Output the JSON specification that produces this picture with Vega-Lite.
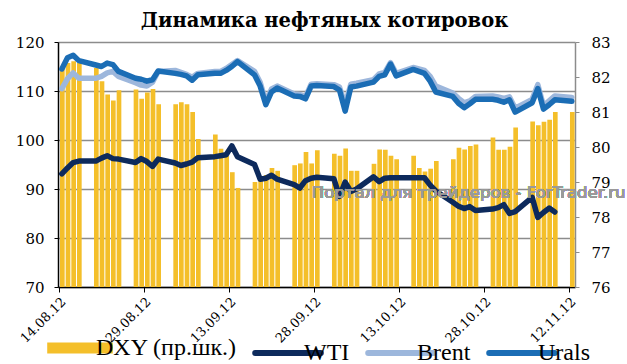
{
  "$schema": "https://vega.github.io/schema/vega-lite/v6.json",
  "width": 517,
  "height": 245,
  "autosize": {"type": "none"},
  "padding": {"left": 58, "top": 42, "right": 52, "bottom": 77},
  "background": "white",
  "title": {
    "text": "Динамика нефтяных котировок",
    "font": "DejaVu Serif",
    "fontSize": 19.5,
    "fontWeight": "bold",
    "color": "#000000",
    "anchor": "middle",
    "dx": 8,
    "offset": 4
  },
  "config": {
    "view": {"stroke": null},
    "axis": {"labelFont": "DejaVu Serif", "labelColor": "#000000", "titleFont": "DejaVu Serif"}
  },
  "data": {
    "values": [
      {"date": "2012-08-14", "DXY": 82.30, "WTI": 93.1, "Brent": 110.5, "Urals": 114.5},
      {"date": "2012-08-15", "DXY": 82.40, "WTI": 94.3, "Brent": 112.5, "Urals": 116.8},
      {"date": "2012-08-16", "DXY": 82.45, "WTI": 95.4, "Brent": 113.7, "Urals": 117.3},
      {"date": "2012-08-17", "DXY": 82.40, "WTI": 95.7, "Brent": 112.6, "Urals": 116.2},
      {"date": "2012-08-20", "DXY": 82.26, "WTI": 95.7, "Brent": 112.6, "Urals": 115.3},
      {"date": "2012-08-21", "DXY": 81.88, "WTI": 96.3, "Brent": 113.0, "Urals": 115.0},
      {"date": "2012-08-22", "DXY": 81.50, "WTI": 96.8, "Brent": 113.7, "Urals": 115.7},
      {"date": "2012-08-23", "DXY": 81.33, "WTI": 96.2, "Brent": 114.0, "Urals": 115.4},
      {"date": "2012-08-24", "DXY": 81.62, "WTI": 96.1, "Brent": 113.0, "Urals": 114.0},
      {"date": "2012-08-27", "DXY": 81.64, "WTI": 95.4, "Brent": 111.7, "Urals": 112.6},
      {"date": "2012-08-28", "DXY": 81.38, "WTI": 96.2, "Brent": 111.2, "Urals": 112.4},
      {"date": "2012-08-29", "DXY": 81.56, "WTI": 95.6, "Brent": 111.0, "Urals": 112.0},
      {"date": "2012-08-30", "DXY": 81.66, "WTI": 94.6, "Brent": 111.8, "Urals": 112.3},
      {"date": "2012-08-31", "DXY": 81.22, "WTI": 96.1, "Brent": 114.0, "Urals": 114.1},
      {"date": "2012-09-03", "DXY": 81.22, "WTI": 95.3, "Brent": 114.2, "Urals": 113.6},
      {"date": "2012-09-04", "DXY": 81.28, "WTI": 94.8, "Brent": 113.8, "Urals": 113.4},
      {"date": "2012-09-05", "DXY": 81.22, "WTI": 95.1, "Brent": 113.4, "Urals": 113.1},
      {"date": "2012-09-06", "DXY": 81.00, "WTI": 95.5, "Brent": 112.8, "Urals": 112.2},
      {"date": "2012-09-07", "DXY": 80.23, "WTI": 96.4, "Brent": 113.6, "Urals": 113.3},
      {"date": "2012-09-10", "DXY": 80.36, "WTI": 96.6, "Brent": 114.0, "Urals": 113.6},
      {"date": "2012-09-11", "DXY": 79.95, "WTI": 96.8, "Brent": 114.0, "Urals": 113.6},
      {"date": "2012-09-12", "DXY": 79.75, "WTI": 97.0, "Brent": 114.6, "Urals": 114.2},
      {"date": "2012-09-13", "DXY": 79.28, "WTI": 98.8, "Brent": 115.4, "Urals": 115.0},
      {"date": "2012-09-14", "DXY": 78.83, "WTI": 96.6, "Brent": 116.2, "Urals": 116.0},
      {"date": "2012-09-17", "DXY": 79.00, "WTI": 95.0, "Brent": 114.0, "Urals": 113.3},
      {"date": "2012-09-18", "DXY": 79.05, "WTI": 92.0, "Brent": 111.8, "Urals": 111.0},
      {"date": "2012-09-19", "DXY": 79.20, "WTI": 92.2, "Brent": 107.8, "Urals": 107.2},
      {"date": "2012-09-20", "DXY": 79.40, "WTI": 92.8, "Brent": 110.4, "Urals": 109.8},
      {"date": "2012-09-21", "DXY": 79.32, "WTI": 92.0, "Brent": 111.0, "Urals": 110.6},
      {"date": "2012-09-24", "DXY": 79.48, "WTI": 90.9, "Brent": 109.4, "Urals": 109.0},
      {"date": "2012-09-25", "DXY": 79.53, "WTI": 90.2, "Brent": 109.3, "Urals": 108.9},
      {"date": "2012-09-26", "DXY": 79.86, "WTI": 91.7, "Brent": 108.8, "Urals": 108.4},
      {"date": "2012-09-27", "DXY": 79.53, "WTI": 92.2, "Brent": 111.4, "Urals": 111.0},
      {"date": "2012-09-28", "DXY": 79.91, "WTI": 92.4, "Brent": 111.5, "Urals": 111.1},
      {"date": "2012-10-01", "DXY": 79.81, "WTI": 92.1, "Brent": 111.3, "Urals": 110.9},
      {"date": "2012-10-02", "DXY": 79.75, "WTI": 88.5, "Brent": 110.8, "Urals": 110.2},
      {"date": "2012-10-03", "DXY": 79.96, "WTI": 91.4, "Brent": 107.2, "Urals": 105.9},
      {"date": "2012-10-04", "DXY": 79.32, "WTI": 89.5, "Brent": 111.4, "Urals": 110.8},
      {"date": "2012-10-05", "DXY": 79.32, "WTI": 90.0, "Brent": 111.6, "Urals": 111.0},
      {"date": "2012-10-08", "DXY": 79.52, "WTI": 92.5, "Brent": 112.3, "Urals": 111.8},
      {"date": "2012-10-09", "DXY": 79.93, "WTI": 91.5, "Brent": 113.5, "Urals": 113.0},
      {"date": "2012-10-10", "DXY": 79.92, "WTI": 92.2, "Brent": 113.8, "Urals": 113.3},
      {"date": "2012-10-11", "DXY": 79.75, "WTI": 92.3, "Brent": 115.8, "Urals": 115.5},
      {"date": "2012-10-12", "DXY": 79.65, "WTI": 92.3, "Brent": 113.6, "Urals": 113.1},
      {"date": "2012-10-15", "DXY": 79.75, "WTI": 92.3, "Brent": 114.8, "Urals": 114.4},
      {"date": "2012-10-16", "DXY": 79.40, "WTI": 92.3, "Brent": 114.5, "Urals": 114.0},
      {"date": "2012-10-17", "DXY": 79.30, "WTI": 92.3, "Brent": 114.2, "Urals": 113.6},
      {"date": "2012-10-18", "DXY": 79.38, "WTI": 90.8, "Brent": 113.0, "Urals": 112.0},
      {"date": "2012-10-19", "DXY": 79.60, "WTI": 89.6, "Brent": 111.0, "Urals": 109.8},
      {"date": "2012-10-22", "DXY": 79.65, "WTI": 87.3, "Brent": 109.6, "Urals": 108.9},
      {"date": "2012-10-23", "DXY": 79.98, "WTI": 86.5, "Brent": 108.5, "Urals": 107.5},
      {"date": "2012-10-24", "DXY": 79.93, "WTI": 86.0, "Brent": 107.6, "Urals": 106.6},
      {"date": "2012-10-25", "DXY": 80.03, "WTI": 86.4, "Brent": 108.0, "Urals": 107.4},
      {"date": "2012-10-26", "DXY": 80.07, "WTI": 85.6, "Brent": 108.9, "Urals": 108.3},
      {"date": "2012-10-29", "DXY": 80.27, "WTI": 85.9, "Brent": 109.0, "Urals": 108.3},
      {"date": "2012-10-30", "DXY": 79.92, "WTI": 86.2, "Brent": 108.8, "Urals": 108.1},
      {"date": "2012-10-31", "DXY": 79.92, "WTI": 86.8, "Brent": 108.5, "Urals": 107.7},
      {"date": "2012-11-01", "DXY": 80.01, "WTI": 85.0, "Brent": 108.8, "Urals": 108.2},
      {"date": "2012-11-02", "DXY": 80.56, "WTI": 85.4, "Brent": 106.5, "Urals": 105.7},
      {"date": "2012-11-05", "DXY": 80.73, "WTI": 88.3, "Brent": 108.3, "Urals": 107.6},
      {"date": "2012-11-06", "DXY": 80.62, "WTI": 84.2, "Brent": 111.3, "Urals": 110.5},
      {"date": "2012-11-07", "DXY": 80.72, "WTI": 85.2, "Brent": 107.0, "Urals": 106.3},
      {"date": "2012-11-08", "DXY": 80.78, "WTI": 86.1, "Brent": 108.0, "Urals": 107.2},
      {"date": "2012-11-09", "DXY": 81.00, "WTI": 85.3, "Brent": 109.0, "Urals": 108.2},
      {"date": "2012-11-12", "DXY": 81.00, "Brent": 108.7, "Urals": 107.9}
    ]
  },
  "layer": [
    {
      "mark": {"type": "bar", "color": "#F4BF2A", "timeUnitBandSize": 0.72, "timeUnitBandPosition": 0.14},
      "encoding": {
        "x": {
          "field": "date",
          "timeUnit": "utcyearmonthdate",
          "type": "temporal",
          "scale": {
            "type": "utc",
            "domain": [
              {"year": 2012, "month": "aug", "date": 13, "hours": 19, "minutes": 45, "utc": true},
              {"year": 2012, "month": "nov", "date": 13, "hours": 1, "minutes": 30, "utc": true}
            ]
          },
          "axis": {
            "title": null,
            "values": [
              {"year": 2012, "month": "aug", "date": 14, "utc": true},
              {"year": 2012, "month": "aug", "date": 29, "utc": true},
              {"year": 2012, "month": "sep", "date": 13, "utc": true},
              {"year": 2012, "month": "sep", "date": 28, "utc": true},
              {"year": 2012, "month": "oct", "date": 13, "utc": true},
              {"year": 2012, "month": "oct", "date": 28, "utc": true},
              {"year": 2012, "month": "nov", "date": 12, "utc": true}
            ],
            "format": "%d.%m.%y",
            "labelAngle": -45,
            "labelFontSize": 13,
            "labelPadding": 3,
            "tickSize": 5,
            "tickColor": "#000000",
            "domainColor": "#000000",
            "domainWidth": 1.5,
            "grid": false,
            "labelOverlap": false,
            "labelFlush": false
          }
        },
        "y": {
          "field": "DXY",
          "type": "quantitative",
          "scale": {"domain": [76, 83], "zero": false, "nice": false},
          "axis": {
            "orient": "right",
            "title": null,
            "values": [76, 77, 78, 79, 80, 81, 82, 83],
            "labelFontSize": 15,
            "labelPadding": 12,
            "tickSize": 4,
            "tickColor": "#8c8c8c",
            "domainColor": "#8c8c8c",
            "domainWidth": 1.5,
            "grid": false
          }
        },
        "y2": {"datum": 76},
        "color": {
          "datum": "DXY (пр.шк.)",
          "type": "nominal",
          "scale": {
            "domain": ["DXY (пр.шк.)", "WTI", "Brent", "Urals"],
            "range": ["#F4BF2A", "#0D2A5C", "#9DB7DC", "#1B6DB5"]
          },
          "legend": {
            "orient": "none",
            "legendX": 10,
            "legendY": 294,
            "direction": "horizontal",
            "title": null,
            "padding": 0,
            "symbolType": "stroke",
            "symbolSize": 4300,
            "symbolStrokeWidth": 5,
            "labelFont": "Liberation Serif",
            "labelFontSize": 24,
            "labelColor": "#000000",
            "labelOffset": 4,
            "columnPadding": 6,
            "encode": {
              "symbols": {
                "update": {
                  "stroke": {"scale": "color", "field": "value"},
                  "fill": {"value": "transparent"},
                  "strokeWidth": {"signal": "datum.value === 'DXY (пр.шк.)' ? 11 : 6"},
                  "strokeCap": {"signal": "datum.value === 'DXY (пр.шк.)' ? 'butt' : 'round'"}
                }
              }
            }
          }
        }
      }
    },
    {
      "layer": [
        {
          "transform": [{"fold": ["WTI", "Brent", "Urals"], "as": ["series", "value"]}],
          "mark": {"type": "line", "strokeWidth": 5.5, "strokeCap": "round", "strokeJoin": "round"},
          "encoding": {
            "x": {
              "field": "date",
              "timeUnit": "utcyearmonthdate",
              "type": "temporal",
              "bandPosition": 0.5,
              "axis": {
                "title": null,
                "values": [
                  {"year": 2012, "month": "aug", "date": 14, "utc": true},
                  {"year": 2012, "month": "aug", "date": 29, "utc": true},
                  {"year": 2012, "month": "sep", "date": 13, "utc": true},
                  {"year": 2012, "month": "sep", "date": 28, "utc": true},
                  {"year": 2012, "month": "oct", "date": 13, "utc": true},
                  {"year": 2012, "month": "oct", "date": 28, "utc": true},
                  {"year": 2012, "month": "nov", "date": 12, "utc": true}
                ],
                "format": "%d.%m.%y",
                "labelAngle": -45,
                "labelFontSize": 13,
                "labelPadding": 3,
                "tickSize": 5,
                "tickColor": "#000000",
                "domainColor": "#000000",
                "domainWidth": 1.5,
                "grid": false,
                "labelOverlap": false,
                "labelFlush": false
              }
            },
            "y": {
              "field": "value",
              "type": "quantitative",
              "scale": {"domain": [70, 120], "zero": false, "nice": false},
              "axis": {
                "orient": "left",
                "title": null,
                "values": [70, 80, 90, 100, 110, 120],
                "labelFontSize": 15,
                "labelPadding": 10,
                "tickSize": 4,
                "tickColor": "#000000",
                "domainColor": "#000000",
                "domainWidth": 1.5,
                "grid": true,
                "gridColor": "#8c8c8c",
                "gridWidth": 1.5
              }
            },
            "color": {
              "field": "series",
              "type": "nominal",
              "legend": {
                "orient": "none",
                "legendX": 10,
                "legendY": 294,
                "direction": "horizontal",
                "title": null,
                "padding": 0,
                "symbolType": "stroke",
                "symbolSize": 4300,
                "symbolStrokeWidth": 5,
                "labelFont": "Liberation Serif",
                "labelFontSize": 24,
                "labelColor": "#000000",
                "labelOffset": 4,
                "columnPadding": 6,
                "encode": {
                  "symbols": {
                    "update": {
                      "stroke": {"scale": "color", "field": "value"},
                      "fill": {"value": "transparent"},
                      "strokeWidth": {"signal": "datum.value === 'DXY (пр.шк.)' ? 11 : 6"},
                      "strokeCap": {"signal": "datum.value === 'DXY (пр.шк.)' ? 'butt' : 'round'"}
                    }
                  }
                }
              }
            },
            "order": {"field": "series", "sort": "descending"}
          }
        },
        {
          "mark": {"type": "text", "font": "DejaVu Sans", "fontSize": 16.5, "color": "#9a9a9a", "opacity": 0.75, "align": "left", "baseline": "middle"},
          "encoding": {
            "x": {
              "datum": {"year": 2012, "month": "sep", "date": 27, "hours": 15, "utc": true},
              "type": "temporal",
              "axis": {
                "title": null,
                "values": [
                  {"year": 2012, "month": "aug", "date": 14, "utc": true},
                  {"year": 2012, "month": "aug", "date": 29, "utc": true},
                  {"year": 2012, "month": "sep", "date": 13, "utc": true},
                  {"year": 2012, "month": "sep", "date": 28, "utc": true},
                  {"year": 2012, "month": "oct", "date": 13, "utc": true},
                  {"year": 2012, "month": "oct", "date": 28, "utc": true},
                  {"year": 2012, "month": "nov", "date": 12, "utc": true}
                ],
                "format": "%d.%m.%y",
                "labelAngle": -45,
                "labelFontSize": 13,
                "labelPadding": 3,
                "tickSize": 5,
                "tickColor": "#000000",
                "domainColor": "#000000",
                "domainWidth": 1.5,
                "grid": false,
                "labelOverlap": false,
                "labelFlush": false
              }
            },
            "y": {
              "datum": 89.1,
              "type": "quantitative",
              "axis": {
                "orient": "left",
                "title": null,
                "values": [70, 80, 90, 100, 110, 120],
                "labelFontSize": 15,
                "labelPadding": 10,
                "tickSize": 4,
                "tickColor": "#000000",
                "domainColor": "#000000",
                "domainWidth": 1.5,
                "grid": true,
                "gridColor": "#8c8c8c",
                "gridWidth": 1.5
              }
            },
            "text": {"value": "Портал для трейдеров - ForTrader.ru"}
          }
        }
      ]
    }
  ],
  "resolve": {"scale": {"y": "independent"}}
}
